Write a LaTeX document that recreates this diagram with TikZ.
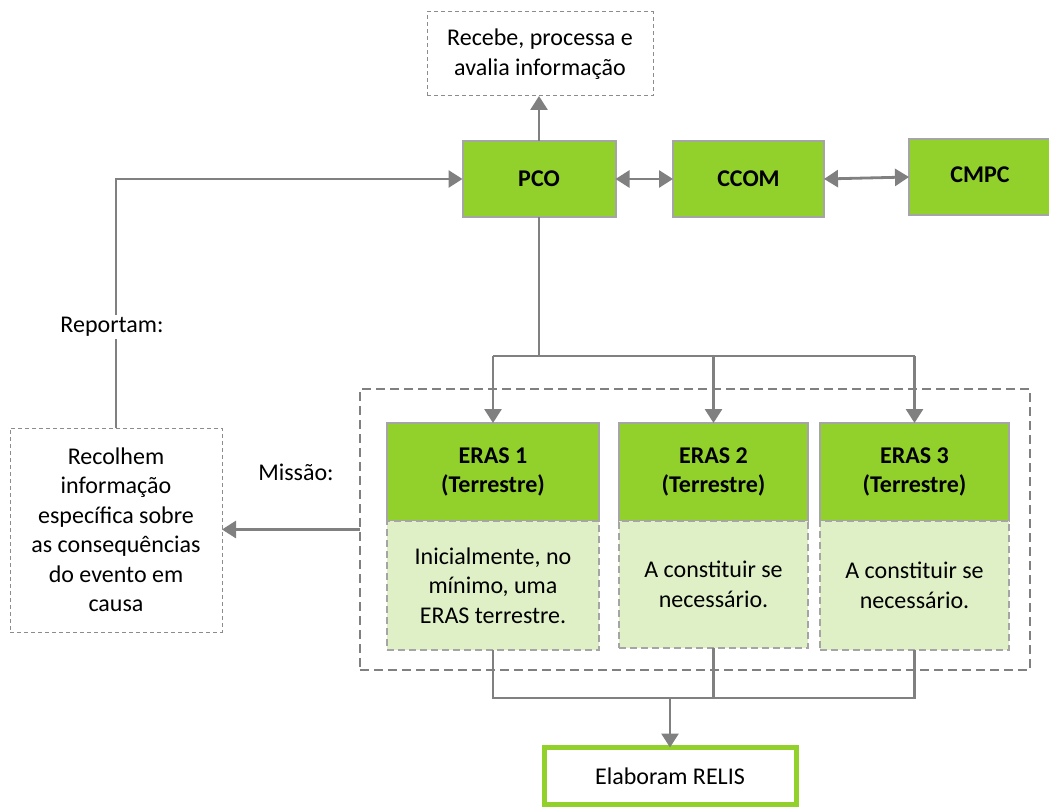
\documentclass[tikz,border=0pt]{standalone}
\usepackage{fontspec}
\setmainfont{Carlito}
\usetikzlibrary{arrows.meta}
\definecolor{leaf}{RGB}{146,208,44}
\definecolor{paleleaf}{RGB}{223,240,199}
\definecolor{wire}{RGB}{128,128,128}
\definecolor{rim}{RGB}{165,165,165}
\definecolor{thinrim}{RGB}{140,140,140}

\begin{document}
\begin{tikzpicture}[x=1pt,y=-1pt,
  txt/.style={font=\fontsize{24}{29.5}\selectfont, align=center, inner sep=0pt, outer sep=0pt},
  note/.style={txt, draw=thinrim, line width=1pt, dash pattern=on 4pt off 3pt},
  unit/.style={txt, fill=leaf, draw=rim, line width=2pt, font=\fontsize{24}{29.5}\selectfont\bfseries},
  task/.style={txt, fill=paleleaf, draw=rim, line width=2pt, dash pattern=on 7pt off 4pt},
  group/.style={draw=wire, line width=2pt, dash pattern=on 9pt off 5pt, inner sep=0pt, outer sep=0pt},
  wirel/.style={draw=wire, line width=2.8pt},
  arr/.style={wirel, -{Triangle[length=14pt,width=17pt]}},
  darr/.style={wirel, {Triangle[length=14pt,width=17pt]}-{Triangle[length=14pt,width=17pt]}},
  label/.style={font=\fontsize{24}{29.5}\selectfont, inner sep=2pt},
]
\useasboundingbox (0,0) rectangle (1049,810);
\fill[white] (0,0) rectangle (1049,810);

% mission frame around the three teams
\node[group, minimum width=670pt, minimum height=281pt] (frame) at (695,529.5) {};

% command chain
\node[note, minimum width=226pt, minimum height=84pt] (top) at (540,54)
  {Recebe, processa e\\avalia informação};
\node[unit, minimum width=153pt, minimum height=76pt] (pco) at (539,179) {PCO};
\node[unit, minimum width=151pt, minimum height=76pt] (ccom) at (748.5,179) {CCOM};
\node[unit, minimum width=142pt, minimum height=76pt] (cmpc) at (980,177) {\raisebox{5pt}{CMPC}};

% field teams
\node[unit, minimum width=212pt, minimum height=98pt] (e1) at (493,472) {ERAS 1\\(Terrestre)};
\node[task, minimum width=212pt, minimum height=129pt, anchor=north] (t1) at (e1.south)
  {Inicialmente, no\\mínimo, uma\\ERAS terrestre.};
\node[unit, minimum width=189pt, minimum height=98pt] (e2) at (713.5,472) {ERAS 2\\(Terrestre)};
\node[task, minimum width=189pt, minimum height=127pt, anchor=north] (t2) at (e2.south)
  {A constituir se\\necessário.};
\node[unit, minimum width=189pt, minimum height=98pt] (e3) at (914.5,472) {ERAS 3\\(Terrestre)};
\node[task, minimum width=189pt, minimum height=129pt, anchor=north] (t3) at (e3.south)
  {A constituir se\\necessário.};

% side note and report
\node[note, minimum width=212pt, minimum height=204pt] (field) at (116,530)
  {Recolhem\\informação\\específica sobre\\as consequências\\do evento em\\causa};
\node[txt, draw=leaf, line width=5pt, fill=white, minimum width=252pt, minimum height=57pt] (relis) at (670,776)
  {Elaboram RELIS};

% connectors
\draw[arr] (pco.north) -- (pco.north |- top.south);
\draw[darr] (pco.east) -- (ccom.west);
\draw[darr] (ccom.east) -- (cmpc.west);

\coordinate (fork) at (pco.south |- 0,356);
\draw[wirel] (pco.south) -- (fork);
\draw[wirel] (e1.north |- fork) -- (e3.north |- fork);
\draw[arr] (e1.north |- fork) -- (e1.north);
\draw[arr] (e2.north |- fork) -- (e2.north);
\draw[arr] (e3.north |- fork) -- (e3.north);

\coordinate (join) at (relis.north |- 0,698);
\draw[wirel] (t1.south) -- (t1.south |- join) -- (t3.south |- join) -- (t3.south);
\draw[wirel] (t2.south) -- (t2.south |- join);
\draw[arr] (join) -- (relis.north);

\coordinate (bend) at (field.north |- pco.west);
\draw[arr] (field.north) -- (bend) -- (pco.west);
\node[label, fill=white] (rep) at (112,327) {Reportam:};

\draw[arr] (frame.west) -- (frame.west -| field.east);
\node[label] (mis) at (296,472) {Missão:};
\end{tikzpicture}
\end{document}
